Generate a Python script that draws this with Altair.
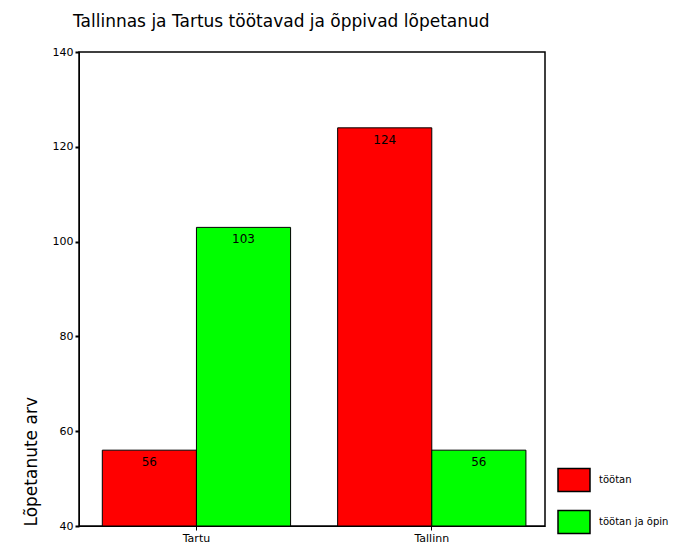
import altair as alt
import pandas as pd

cities = ["Tartu", "Tartu", "Tallinn", "Tallinn"]
groups = ["töötan", "töötan ja õpin", "töötan", "töötan ja õpin"]
values = [56, 103, 124, 56]
city_order = ["Tartu", "Tallinn"]
group_order = ["töötan", "töötan ja õpin"]
colors = ["#ff0000", "#00ff00"]

df = pd.DataFrame({"city": cities, "group": groups, "value": values})

FONT = "DejaVu Sans"

base = alt.Chart(df).encode(
    x=alt.X("city:N", sort=city_order, title=None,
            scale=alt.Scale(paddingInner=0.2, paddingOuter=0.09, align=0.55),
            axis=alt.Axis(labelAngle=0, labelFont=FONT, labelFontSize=11,
                          labelColor="black", domainColor="black",
                          tickColor="black", tickSize=4, labelPadding=2)),
    xOffset=alt.XOffset("group:N", sort=group_order),
)

bars = base.mark_bar(stroke="black", strokeWidth=1, clip=True).encode(
    y=alt.Y("value:Q", title="Lõpetanute arv",
            scale=alt.Scale(domain=[40, 140], zero=False, nice=False),
            axis=alt.Axis(values=[40, 60, 80, 100, 120, 140], grid=False,
                          labelFont=FONT, labelFontSize=11, labelColor="black",
                          domainColor="black", tickColor="black", tickSize=4,
                          tickWidth=2, titleFont=FONT, titleFontSize=17,
                          titleFontWeight="normal", titleColor="black",
                          titleAnchor="start", titlePadding=12)),
    y2=alt.datum(40),
    color=alt.Color("group:N", sort=group_order,
                    scale=alt.Scale(domain=group_order, range=colors),
                    legend=alt.Legend(title=None, orient="none",
                                      legendX=478, legendY=411,
                                      symbolType="M-1,-0.72H1V0.72H-1Z",
                                      symbolSize=1024, symbolStrokeColor="black",
                                      symbolStrokeWidth=1.5, symbolOpacity=1,
                                      labelFont=FONT, labelFontSize=10,
                                      labelColor="black", rowPadding=10,
                                      labelOffset=8)),
)

labels = base.mark_text(baseline="top", dy=7, font=FONT, fontSize=12,
                        color="black").encode(
    y=alt.Y("value:Q"),
    text=alt.Text("value:Q"),
)

chart = (bars + labels).properties(
    width=466, height=474,
    background="white",
    title=alt.TitleParams("Tallinnas ja Tartus töötavad ja õppivad lõpetanud",
                          anchor="start", frame="group", font=FONT, fontSize=17,
                          fontWeight="normal", color="black", offset=15,
                          dx=-6),
    autosize=alt.AutoSizeParams(type="none"),
    padding={"left": 71, "top": 44, "right": 132, "bottom": 19},
).configure_view(stroke="black", strokeWidth=1.5)

chart.save("out.html", embed_options={"renderer": "svg", "actions": False})
